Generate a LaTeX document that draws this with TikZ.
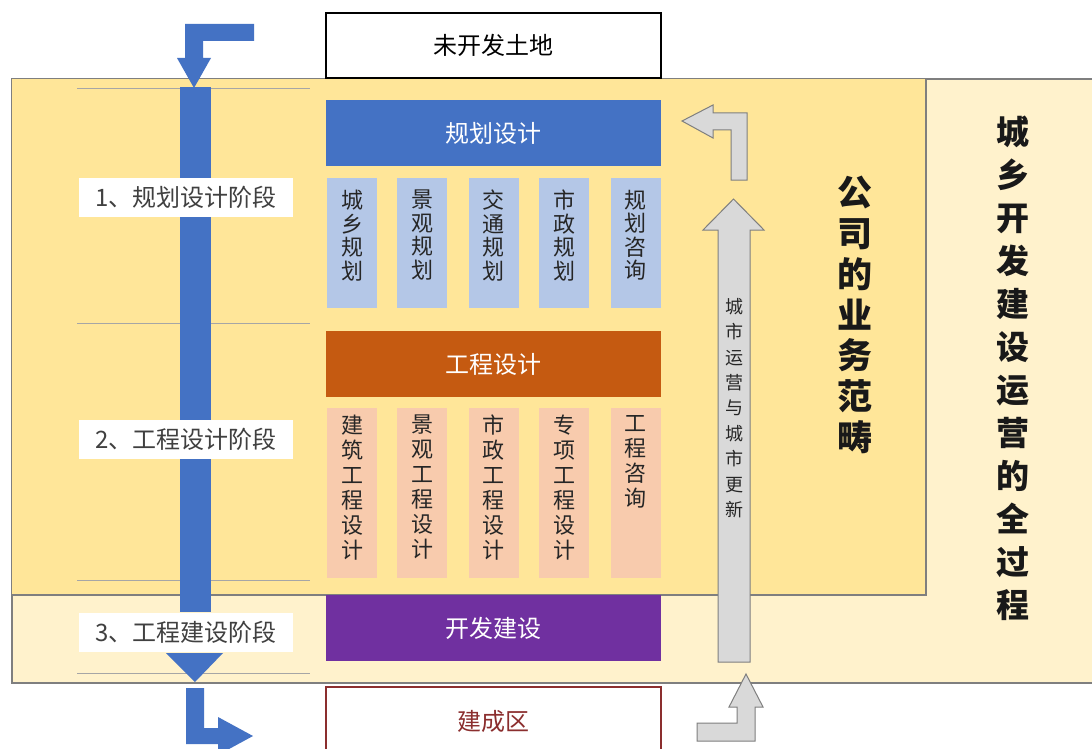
\documentclass[tikz,border=0pt]{standalone}
\usepackage{fontspec}
\setmainfont{Noto Sans CJK SC}
\definecolor{cream}{HTML}{FFF2CC}
\definecolor{yel}{HTML}{FFE699}
\definecolor{pline}{HTML}{7F7F7F}
\definecolor{thin}{HTML}{A6A6A6}
\definecolor{bblue}{HTML}{4472C4}
\definecolor{lblue}{HTML}{B4C7E7}
\definecolor{orng}{HTML}{C55A11}
\definecolor{peach}{HTML}{F8CBAD}
\definecolor{purp}{HTML}{7030A0}
\definecolor{garrow}{HTML}{D9D9D9}
\definecolor{darkred}{HTML}{8B2E2E}
\definecolor{labtext}{HTML}{404040}
\begin{document}
\begin{tikzpicture}[x=1pt,y=-1pt,
  rbox/.style={anchor=north west, inner sep=0pt, outer sep=0pt},
  bar/.style={rbox, minimum width=335pt, minimum height=66pt, text=white, font=\fontsize{24}{28}\selectfont},
  subblue/.style={anchor=north, inner sep=0pt, minimum width=50pt, minimum height=130pt, fill=lblue},
  subpeach/.style={anchor=north, inner sep=0pt, minimum width=50pt, minimum height=170pt, fill=peach},
  bluetext/.style={anchor=north, inner sep=0pt, align=center, font=\fontsize{22}{23.5}\selectfont, text=black!85},
  peachtext/.style={anchor=north, inner sep=0pt, align=center, font=\fontsize{22}{25}\selectfont, text=black!85},
  stagelabel/.style={rbox, fill=white, minimum width=214pt, minimum height=39pt, text=labtext, font=\fontsize{24}{28}\selectfont},
  bluearrow/.style={fill=bblue},
  grayarrow/.style={fill=garrow, draw=pline, line width=1pt, line join=miter},
  thinline/.style={draw=thin, line width=0.8pt},
  bigtitle/.style={align=center, inner sep=0pt, font=\bfseries\fontsize{35}{40.7}\selectfont, text=black!90}
]
\useasboundingbox (0,0) rectangle (1092,749);
\fill[white] (0,0) rectangle (1092,749);
% panels
\node[rbox, fill=cream, minimum width=1100pt, minimum height=604pt] (outer) at (12,79) {};
\draw[pline, line width=1.2pt] (outer.north east) -- (outer.north west) -- (outer.south west) -- (outer.south east);
\node[rbox, fill=yel, minimum width=914pt, minimum height=516pt] (inner) at (12,79) {};
\draw[pline, line width=1.2pt] (inner.north east) -- (inner.south east) -- (inner.south west);
% thin stage lines
\coordinate (l1a) at (77,88);  \coordinate (l1b) at (310,88);
\coordinate (l2a) at (77,323); \coordinate (l2b) at (310,323);
\coordinate (l3a) at (77,580); \coordinate (l3b) at (310,580);
\coordinate (l4a) at (77,673); \coordinate (l4b) at (310,673);
\draw[thinline] (l1a) -- (l1b);
\draw[thinline] (l2a) -- (l2b);
\draw[thinline] (l3a) -- (l3b);
\draw[thinline] (l4a) -- (l4b);
% blue process arrow
\fill[bluearrow] (254,24) -- (185,24) -- (185,58) -- (177,58) -- (194,88) -- (211,58) -- (203,58) -- (203,41) -- (254,41) -- cycle;
\fill[bluearrow] (180,87) rectangle (211,612);
\fill[bluearrow] (166,653) -- (223,653) -- (195,682) -- cycle;
\fill[bluearrow] (186,688) -- (204,688) -- (204,728) -- (218,728) -- (218,717) -- (253,736) -- (218,755) -- (218,744) -- (186,744) -- cycle;
% stage labels
\node[stagelabel] (s1) at (79,178) {1、规划设计阶段};
\node[stagelabel] (s2) at (79,420) {2、工程设计阶段};
\node[stagelabel] (s3) at (79,613) {3、工程建设阶段};
% top and bottom boxes
\node[rbox, draw=black, line width=1.8pt, fill=white, minimum width=335pt, minimum height=65pt, font=\fontsize{24}{28}\selectfont] (land) at (326,13) {未开发土地};
\node[rbox, draw=darkred, line width=1.6pt, fill=white, minimum width=335pt, minimum height=75pt] (built) at (326,687) {};
\node[text=darkred, font=\fontsize{24}{28}\selectfont] (builtt) at (493.5,721) {建成区};
% bars
\node[bar, fill=bblue] (plan) at (326,100) {规划设计};
\node[bar, fill=orng] (eng) at (326,331) {工程设计};
\node[bar, fill=purp] (dev) at (326,595) {开发建设};
% planning sub boxes
\node[subblue] (p1) at (352,178) {};
\node[subblue] (p2) at (422,178) {};
\node[subblue] (p3) at (493.5,178) {};
\node[subblue] (p4) at (564,178) {};
\node[subblue] (p5) at (635.5,178) {};
\node[bluetext] (p1t) at (352,190) {城\\乡\\规\\划};
\node[bluetext] (p2t) at (422,190) {景\\观\\规\\划};
\node[bluetext] (p3t) at (493.5,190) {交\\通\\规\\划};
\node[bluetext] (p4t) at (564,190) {市\\政\\规\\划};
\node[bluetext] (p5t) at (635.5,190) {规\\划\\咨\\询};
% engineering sub boxes
\node[subpeach] (e1) at (352,408) {};
\node[subpeach] (e2) at (422,408) {};
\node[subpeach] (e3) at (493.5,408) {};
\node[subpeach] (e4) at (564,408) {};
\node[subpeach] (e5) at (635.5,408) {};
\node[peachtext] (e1t) at (352,415) {建\\筑\\工\\程\\设\\计};
\node[peachtext] (e2t) at (422,415) {景\\观\\工\\程\\设\\计};
\node[peachtext] (e3t) at (493.5,415) {市\\政\\工\\程\\设\\计};
\node[peachtext] (e4t) at (564,415) {专\\项\\工\\程\\设\\计};
\node[peachtext] (e5t) at (635.5,415) {工\\程\\咨\\询};
% gray feedback arrows
\draw[grayarrow] (747,180) -- (731,180) -- (731,130) -- (713,130) -- (713,138) -- (682,121) -- (713,105) -- (713,113) -- (747,113) -- cycle;
\draw[grayarrow] (718,662) -- (718,230) -- (703,230) -- (733.5,199) -- (764,230) -- (750,230) -- (750,662) -- cycle;
\draw[grayarrow] (697,723) -- (737,723) -- (737,707) -- (729,707) -- (746,674) -- (763,707) -- (755,707) -- (755,741) -- (697,741) -- cycle;
\node[align=center, inner sep=0pt, font=\fontsize{18}{25.4}\selectfont, text=black!85] (ops) at (734,408) {城\\市\\运\\营\\与\\城\\市\\更\\新};
% titles
\node[bigtitle] (scope) at (855,315) {公\\司\\的\\业\\务\\范\\畴};
\node[bigtitle, font=\bfseries\fontsize{33}{43}\selectfont] (whole) at (1013,368.5) {城\\乡\\开\\发\\建\\设\\运\\营\\的\\全\\过\\程};
\end{tikzpicture}
\end{document}
